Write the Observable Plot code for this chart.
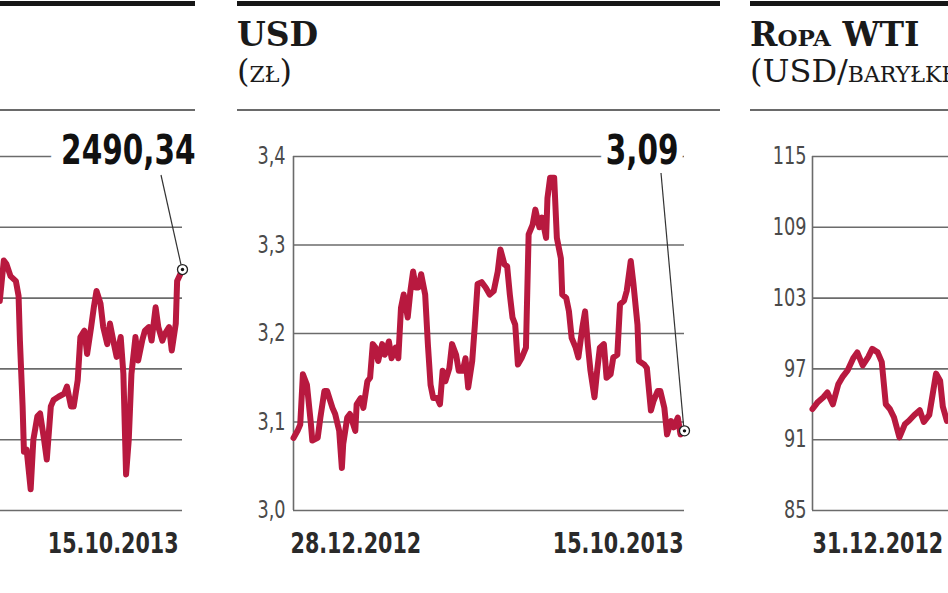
<!DOCTYPE html>
<html><head><meta charset="utf-8">
<script src="https://cdn.jsdelivr.net/npm/d3@7"></script>
<script src="https://cdn.jsdelivr.net/npm/@observablehq/plot@0.6"></script>
<style>
html,body{margin:0;padding:0;background:#fff;}
#page{position:relative;width:948px;height:593px;overflow:hidden;background:#fff;}
.rule-thick{position:absolute;top:1px;height:5px;background:#161616;}
.rule-thin{position:absolute;top:109px;height:2px;background:#6a6a6a;}
.title{position:absolute;font-family:"DejaVu Serif",serif;color:#1a1a1a;white-space:nowrap;}
.t1{top:22px;font-weight:bold;font-size:33px;line-height:26px;height:26px;}
.t2{top:57px;font-weight:normal;font-size:32px;line-height:28px;height:28px;}
.sc{font-variant:small-caps;}
.chart{position:absolute;top:120px;}
.chart svg{max-width:none !important;}
</style>
</head><body>
<div id="page"></div>
<script>
// ---------- DATA ----------
// Left panel (index, cut off by the frame) – day offsets from 28.12.2012
const wigStart = "2012-12-28";
const wigEnd = "2013-10-15";
const wigDays = [155,158,160,163,167,169,170,172,173,175,178,180,183,185,188,190,193,195,199,203,205,208,210,213,215,218,220,223,225,227,230,232,235,237,240,242,245,247,249,251,253,256,258,261,263,266,268,271,273,276,278,281,283,286,287,291];
const wigValues = [2446,2503,2498,2481,2474,2453,2390,2297,2233,2236,2180,2250,2283,2287,2250,2222,2297,2306,2311,2315,2325,2297,2297,2334,2395,2404,2371,2409,2437,2460,2442,2409,2385,2414,2385,2367,2395,2343,2201,2250,2343,2395,2362,2390,2404,2409,2390,2437,2409,2390,2400,2409,2376,2414,2474,2490.34];
const wigTicks = [2150,2250,2350,2450,2550,2650];
const wigXLabels = ["28.12.2012","15.10.2013"];
const wigEndLabel = "2490,34";

// USD (zł) – day offsets from 28.12.2012
const usdTitle = "USD";
const usdSubtitle = "zł";
const usdStart = "2012-12-28";
const usdEnd = "2013-10-15";
const usdDays = [0,3,5,7,10,13,14,18,20,23,25,29,31,34,36,37,40,42,46,47,50,52,55,57,59,61,63,66,68,71,73,76,78,80,82,85,87,89,91,93,95,98,100,102,104,107,109,111,113,116,118,121,123,126,128,130,133,135,137,140,143,146,149,152,154,157,159,161,163,165,167,170,173,175,178,180,183,185,188,189,191,194,196,199,200,203,205,207,210,212,215,217,219,221,224,226,228,231,233,236,238,241,243,246,248,251,253,256,257,261,263,266,268,271,273,276,278,281,283,286,288,291];
const usdValues = [3.082,3.09,3.097,3.154,3.142,3.097,3.079,3.082,3.105,3.135,3.135,3.116,3.109,3.09,3.048,3.075,3.105,3.109,3.09,3.12,3.127,3.116,3.146,3.15,3.188,3.184,3.169,3.188,3.176,3.191,3.172,3.184,3.172,3.229,3.244,3.218,3.248,3.27,3.252,3.252,3.267,3.244,3.188,3.142,3.127,3.127,3.12,3.158,3.146,3.161,3.188,3.176,3.158,3.158,3.172,3.139,3.169,3.21,3.256,3.258,3.252,3.244,3.248,3.27,3.295,3.278,3.276,3.244,3.218,3.21,3.165,3.173,3.184,3.312,3.323,3.34,3.32,3.331,3.308,3.353,3.376,3.376,3.308,3.285,3.244,3.24,3.225,3.195,3.184,3.173,3.207,3.225,3.188,3.158,3.128,3.158,3.184,3.188,3.15,3.154,3.173,3.176,3.233,3.237,3.248,3.282,3.256,3.21,3.169,3.165,3.161,3.113,3.124,3.135,3.135,3.116,3.086,3.101,3.094,3.105,3.086,3.09];
const usdTicks = [3.0,3.1,3.2,3.3,3.4];
const usdXLabels = ["28.12.2012","15.10.2013"];
const usdEndLabel = "3,09";

// Ropa WTI (USD/baryłkę) – day offsets from 31.12.2012 (rest cut off by the frame)
const oilTitle = "Ropa WTI";
const oilSubtitleA = "(USD/";
const oilSubtitleB = "baryłkę)";
const oilStart = "2012-12-31";
const oilEnd = "2013-10-15";
const oilDays = [0,4,8,11,15,19,22,26,30,33,37,41,44,48,51,54,57,60,64,68,71,75,79,82,86,89,91,94,96,99];
const oilValues = [93.6,94.2,94.6,95.0,94.0,95.7,96.3,96.9,97.9,98.4,97.3,98.0,98.7,98.4,97.6,94.0,93.6,92.9,91.2,92.3,92.6,93.1,93.5,92.5,93.1,95.2,96.6,96.0,93.8,92.6];
const oilTicks = [85,91,97,103,109,115];
const oilXLabels = ["31.12.2012","15.10.2013"];

// ---------- DRAW ----------
const NUM_FONT = '"DejaVu Sans Condensed","DejaVu Sans",sans-serif';
const SQUEEZE = 0.82;           // narrow the condensed face a little more, like the print font
const LINE_COLOR = "#b8193f";
const GRID = "#6b6b6b";
const page = document.getElementById("page");
const DAY = 864e5;

function toSeries(start, days, values) {
  const t0 = new Date(start + "T00:00:00Z").getTime();
  return days.map((d, i) => ({date: new Date(t0 + d * DAY), value: values[i]}));
}

function addDiv(cls, style, html) {
  const el = document.createElement("div");
  el.className = cls;
  Object.assign(el.style, style);
  if (html != null) el.innerHTML = html;
  page.appendChild(el);
  return el;
}

function panel(cfg) {
  const data = toSeries(cfg.start, cfg.days, cfg.values);
  const x0 = new Date(cfg.start + "T00:00:00Z");
  const x1 = new Date(cfg.end + "T00:00:00Z");
  const last = data[data.length - 1];
  const ticks = cfg.ticks;
  const top = ticks[ticks.length - 1];
  const frameW = 391;
  const width = cfg.marginLeft + frameW + cfg.marginRight;

  addDiv("rule-thick", {left: cfg.ruleLeft + "px", width: (cfg.ruleRight - cfg.ruleLeft) + "px"});
  addDiv("rule-thin", {left: cfg.ruleLeft + "px", width: (cfg.ruleRight - cfg.ruleLeft) + "px"});
  if (cfg.title) addDiv("title t1 sc", {left: cfg.ruleLeft + "px"}, cfg.title);
  if (cfg.subtitle) addDiv("title t2", {left: cfg.ruleLeft + "px"}, cfg.subtitle);

  const leader = (index, scales) => {
    const xe = scales.x(last.date), ye = scales.y(last.value);
    const xs = scales.x(x1) + cfg.leaderDx, ys = scales.y(top) + cfg.leaderDy;
    const g = d3.create("svg:g");
    g.append("line").attr("x1", xs).attr("y1", ys).attr("x2", xe).attr("y2", ye)
      .attr("stroke", "#333").attr("stroke-width", 1.2);
    return g.node();
  };

  const marks = [
    Plot.ruleY(ticks, {stroke: GRID, strokeWidth: 1.6}),
    Plot.ruleX([x0], {stroke: GRID, strokeWidth: 1.6}),
    Plot.line(data, {x: "date", y: "value", stroke: LINE_COLOR, strokeWidth: 6, strokeLinejoin: "round", strokeLinecap: "round"})
  ];
  // only the labels that fall inside the cropped picture are drawn
  if (cfg.showTicks) marks.push(
    Plot.text(ticks, {y: d => d, frameAnchor: "left", dx: -cfg.tickPad, textAnchor: "end", text: cfg.fmt,
      fontSize: 24, fill: "#4a4a4a", fontFamily: NUM_FONT}));
  if (cfg.showX[0]) marks.push(
    Plot.text([cfg.xLabels[0]], {text: d => d, frameAnchor: "bottom-left", textAnchor: "start", lineAnchor: "bottom",
      dx: cfg.xLabelDx[0], dy: 42, fontSize: 28, fontWeight: "bold", fill: "#2a2a2a", fontFamily: NUM_FONT}));
  if (cfg.showX[1]) marks.push(
    Plot.text([cfg.xLabels[1]], {text: d => d, frameAnchor: "bottom-right", textAnchor: "end", lineAnchor: "bottom",
      dx: cfg.xLabelDx[1], dy: 42, fontSize: 28, fontWeight: "bold", fill: "#2a2a2a", fontFamily: NUM_FONT}));
  if (cfg.endLabel) {
    marks.push(
      Plot.text([cfg.endLabel], {text: d => d, frameAnchor: "top-right", textAnchor: "end", lineAnchor: "bottom",
        dx: cfg.labelDx, dy: 7, fontSize: 40, fontWeight: "bold", fill: "#111", fontFamily: NUM_FONT,
        stroke: "white", strokeWidth: cfg.halo, paintOrder: "stroke"}),
      leader,
      Plot.dot([last], {x: "date", y: "value", r: 5, fill: "white", stroke: "#222", strokeWidth: 1.3}),
      Plot.dot([last], {x: "date", y: "value", r: 1.7, fill: "#111"})
    );
  }

  const chart = Plot.plot({
    width, height: 450,
    marginLeft: cfg.marginLeft, marginRight: cfg.marginRight, marginTop: 36, marginBottom: 60,
    x: {type: "utc", domain: [x0, x1], axis: null},
    y: {domain: [ticks[0], top], axis: null},
    style: {background: "transparent", overflow: "visible", maxWidth: "none"},
    marks
  });
  const holder = addDiv("chart", {left: cfg.svgLeft + "px", width: width + "px"});
  holder.appendChild(chart);
  // compress numeric labels horizontally
  chart.querySelectorAll("text").forEach(t => {
    const len = t.getComputedTextLength();
    if (len > 0) {
      t.setAttribute("textLength", (len * SQUEEZE).toFixed(1));
      t.setAttribute("lengthAdjust", "spacingAndGlyphs");
    }
  });
}

panel({start: wigStart, end: wigEnd, days: wigDays, values: wigValues, ticks: wigTicks, fmt: d => String(d),
  xLabels: wigXLabels, showX: [false, true], showTicks: false, endLabel: wigEndLabel, svgLeft: -265, marginLeft: 56, marginRight: 36,
  ruleLeft: -265, ruleRight: 195, labelDx: 13, leaderDx: -21, leaderDy: 19, xLabelDx: [-3, -4], tickPad: 8, halo: 30});

panel({start: usdStart, end: usdEnd, days: usdDays, values: usdValues, ticks: usdTicks,
  fmt: d => d.toFixed(1).replace(".", ","), xLabels: usdXLabels, showX: [true, true], showTicks: true, endLabel: usdEndLabel,
  title: usdTitle, subtitle: `(<span class="sc">${usdSubtitle}</span>)`,
  svgLeft: 237, marginLeft: 56, marginRight: 36, ruleLeft: 237, ruleRight: 720,
  labelDx: -6, leaderDx: -23, leaderDy: 17, xLabelDx: [-3, -1], tickPad: 8, halo: 16});

panel({start: oilStart, end: oilEnd, days: oilDays, values: oilValues, ticks: oilTicks, fmt: d => String(d),
  xLabels: oilXLabels, showX: [true, false], showTicks: true, endLabel: null, title: oilTitle,
  subtitle: `${oilSubtitleA}<span class="sc">${oilSubtitleB}</span>`,
  svgLeft: 750, marginLeft: 62, marginRight: 36, ruleLeft: 750, ruleRight: 980,
  xLabelDx: [0, -1], tickPad: 6});
</script>
</body></html>
